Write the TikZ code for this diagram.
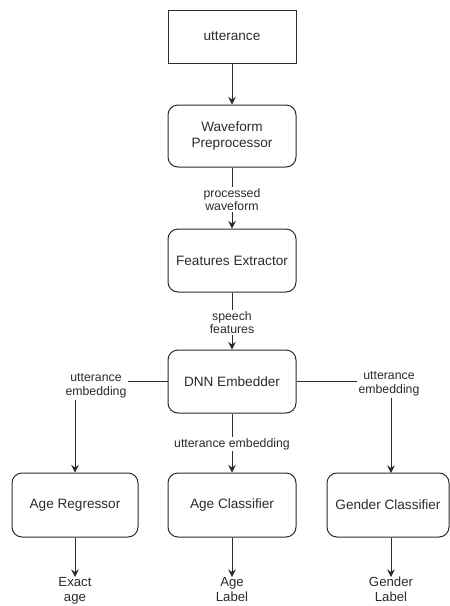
\documentclass[tikz,border=0pt]{standalone}
\usepackage{fontspec}
\setmainfont{Liberation Sans}
\usetikzlibrary{arrows.meta,calc}
\definecolor{ink}{HTML}{2B2B2B}
\tikzset{
  box/.style={draw=ink, line width=1pt, text=ink, font=\fontsize{13.6}{16}\selectfont, minimum width=128pt, minimum height=63pt, inner sep=0pt, align=center},
  rbox/.style={box, rounded corners=10pt},
  lbl/.style={text=ink, fill=white, font=\fontsize{12.3}{13.5}\selectfont, inner sep=1.5pt, align=center},
  outlbl/.style={text=ink, font=\fontsize{13.2}{15}\selectfont, inner sep=0pt, align=center},
  conn/.style={draw=ink, line width=1pt, -{Stealth[length=7.5pt,width=7.5pt]}},
}
\begin{document}
\begin{tikzpicture}[x=1pt,y=-1pt]
\useasboundingbox (0,0) rectangle (450,606);
\node[box, minimum height=53pt] (utt) at (232,36.5) {utterance};
\node[rbox, minimum height=62pt] (wp) at (232,136) {Waveform\\Preprocessor};
\node[rbox] (fe) at (232,260.5) {Features Extractor};
\node[rbox] (dnn) at (232,381.5) {DNN Embedder};
\node[rbox, minimum width=126pt, minimum height=64pt] (ar) at (75,505) {Age Regressor};
\node[rbox, minimum height=64pt] (ac) at (232,505) {Age Classifier};
\node[rbox, minimum width=122pt, minimum height=64pt] (gc) at (388,505) {Gender Classifier};
\node[outlbl, anchor=north] (oa) at (75,577) {Exact\\age};
\node[outlbl, anchor=north] (ob) at (232,577) {Age\\Label};
\node[outlbl, anchor=north] (oc) at (391,577) {Gender\\Label};
\coordinate (gcin) at (391,473);
\draw[conn] (utt) -- (wp);
\draw[conn] (wp) -- (fe);
\draw[conn] (fe) -- (dnn);
\draw[conn] (dnn) -- (ac);
\draw[conn] (dnn.west) -| (ar.north);
\draw[conn] (dnn.east) -| (gcin);
\draw[conn] (ar) -- (oa);
\draw[conn] (ac) -- (ob);
\draw[conn] (ar.south -| oc) -- (oc);
\node[lbl] (l1) at (232,199.5) {processed\\waveform};
\node[lbl] (l2) at (232,322.5) {speech\\features};
\node[lbl] (l3) at (232,444) {utterance embedding};
\node[lbl] (l4) at (96,386) {utterance\\embedding};
\node[lbl] (l5) at (389,384) {utterance\\embedding};
\end{tikzpicture}
\end{document}
